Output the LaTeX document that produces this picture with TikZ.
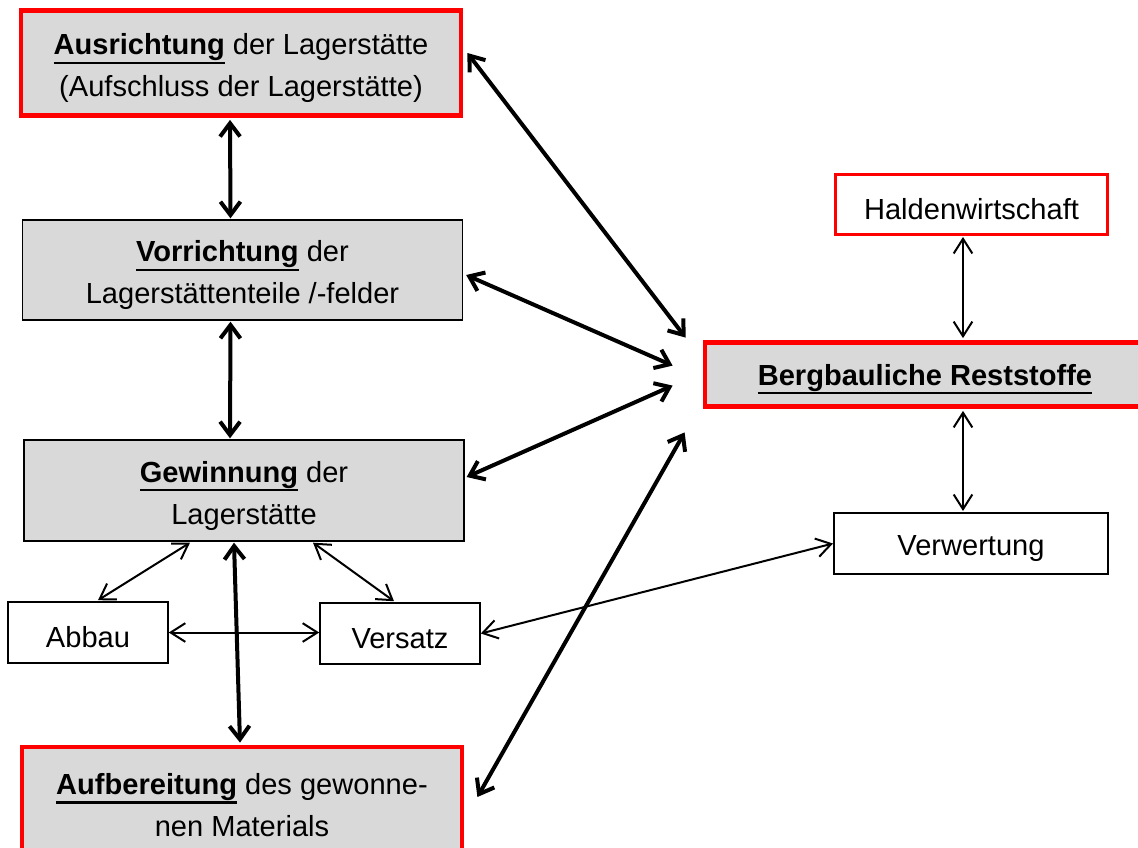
\documentclass[tikz,border=0pt]{standalone}
\usepackage{fontspec}
\setmainfont{Liberation Sans}
\usepackage{xcolor}
\usetikzlibrary{arrows.meta}
\definecolor{boxgray}{HTML}{D9D9D9}
\definecolor{boxred}{HTML}{FF0000}
% bold, underlined key word
\newcommand{\keyword}[1]{\setbox0\hbox{\textbf{#1}}\rlap{\rule[-6.6pt]{\wd0}{1.7pt}}\box0\relax}
\newcommand{\tstrut}{\rule{0pt}{24pt}}

\begin{document}
\begin{tikzpicture}[x=0.75pt,y=-0.75pt,
  every node/.style={font=\fontsize{21.8}{31.5}\selectfont, align=center, inner sep=0pt,
    execute at begin node={\rule{0pt}{23pt}}},
  graybox/.style={draw=black, line width=1pt, fill=boxgray, minimum width=330pt},
  redbox/.style={draw=boxred, line width=3.6pt, fill=boxgray, minimum width=330pt},
  smallbox/.style={draw=black, line width=1.2pt, fill=white, minimum width=120pt, minimum height=45.75pt},
  thickarrow/.style={line width=3pt, {Straight Barb[length=10pt,width=15pt]}-{Straight Barb[length=10pt,width=15pt]}},
  thinarrow/.style={line width=1.5pt, {Straight Barb[length=11pt,width=14pt]}-{Straight Barb[length=11pt,width=14pt]}}]
\useasboundingbox (0,0) rectangle (1138,847);
\clip (0,0) rectangle (1138,847);

% left column
\node[redbox, minimum height=78.75pt] (ausrichtung) at (241,63)
  {\tstrut\keyword{Ausrichtung} der Lagerstätte\\(Aufschluss der Lagerstätte)};
\node[graybox, minimum height=75pt] (vorrichtung) at (242.5,270)
  {\tstrut\keyword{Vorrichtung} der\\Lagerstättenteile /-felder};
\node[graybox, minimum height=75.75pt] (gewinnung) at (244,490.5)
  {\tstrut\keyword{Gewinnung} der\\Lagerstätte};
\node[smallbox] (abbau) at (88,632.5) {Abbau};
\node[smallbox] (versatz) at (400,633.5) {Versatz};
\node[redbox, minimum height=79.5pt] (aufbereitung) at (242,800)
  {\tstrut\keyword{Aufbereitung} des gewonne-\\nen Materials};

% right column
\node[draw=boxred, line width=2.2pt, fill=white, minimum width=204pt, minimum height=45pt] (halde) at (971.5,204.5) {Haldenwirtschaft};
\node[redbox, minimum height=48pt] (reststoffe) at (925,374.5) {\keyword{Bergbauliche Reststoffe}};
\node[draw=black, line width=1.5pt, fill=white, minimum width=205.5pt, minimum height=45.75pt] (verwertung) at (971,543.5) {Verwertung};

% free ends in front of the Reststoffe box
\coordinate (rs1) at ([shift={(-17,-2.5)}]reststoffe.north west);
\coordinate (rs2) at ([shift={(-30,25.5)}]reststoffe.north west);
\coordinate (rs3) at ([shift={(-30,45.5)}]reststoffe.north west);
\coordinate (rs4) at ([shift={(-18,23.5)}]reststoffe.south west);

\draw[thickarrow] ([shift={(-11,2)}]ausrichtung.south) -- ([shift={(-12,-1)}]vorrichtung.north);
\draw[thickarrow] ([shift={(-12,1)}]vorrichtung.south) -- ([shift={(-14,-1)}]gewinnung.north);
\draw[thickarrow] ([shift={(-10,1)}]gewinnung.south) -- ([shift={(-2,-2)}]aufbereitung.north);
\draw[thickarrow] ([shift={(4,-10)}]ausrichtung.east) -- (rs1);
\draw[thickarrow] ([shift={(3,5)}]vorrichtung.east) -- (rs2);
\draw[thickarrow] ([shift={(2,-13.5)}]gewinnung.east) -- (rs3);
\draw[thickarrow] ([shift={(13,-3)}]aufbereitung.east) -- (rs4);

\draw[thinarrow] ([shift={(-54,1)}]gewinnung.south) -- ([shift={(10,-1)}]abbau.north);
\draw[thinarrow] ([shift={(69,1)}]gewinnung.south) -- ([shift={(-6,-1)}]versatz.north);
\draw[thinarrow] (abbau.east) -- (abbau.east -| versatz.west);
\draw[thinarrow] (versatz.east) -- (verwertung.west);
\draw[thinarrow] ([shift={(-8.5,1)}]halde.south) -- ([shift={(38,-2)}]reststoffe.north);
\draw[thinarrow] ([shift={(38,2)}]reststoffe.south) -- ([shift={(-8,-1)}]verwertung.north);
\end{tikzpicture}
\end{document}
